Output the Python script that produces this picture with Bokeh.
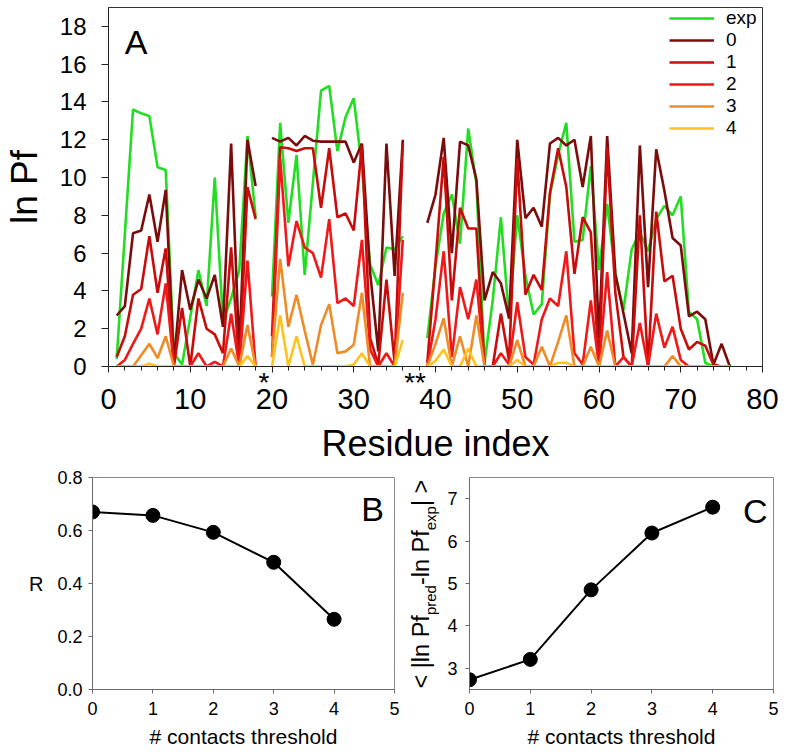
import math
import numpy as np
from bokeh.plotting import figure
from bokeh.layouts import column, row
from bokeh.models import (Label, SingleIntervalTicker, FixedTicker, PrintfTickFormatter,
                          LinearAxis, Range1d)
from bokeh.embed import file_html
from bokeh.resources import INLINE

nan = float("nan")

# ---------------- data ----------------
residues = list(range(1, 77))

pf_exp = [0.4, 7.0, 13.6, 13.4, 13.25, 10.55, 10.4, 0.7, 0.1, 2.6,
          5.1, 3.2, 10.0, 2.4, 3.6, 5.1, 12.2, 7.9, nan, 3.7,
          12.9, 7.6, 11.2, 4.85, 9.7, 14.6, 14.85, 11.4, 13.2, 14.2,
          10.5, 5.4, 4.3, 6.3, 6.2, 6.9, nan, nan, 1.5, 5.3,
          8.1, 9.1, 6.5, 12.6, 9.7, 0.2, 3.5, 7.9, 2.5, 8.0,
          4.8, 2.75, 3.3, 9.1, 11.2, 12.9, 6.6, 6.7, 10.6, 5.1,
          8.6, 4.9, 3.0, 6.2, 7.1, 6.1, 7.8, 8.5, 8.0, 9.0,
          2.9, 2.5, 0.2, 0.0, nan, nan]

pf_c0 = [2.7, 3.2, 7.05, 7.2, 9.1, 6.6, 9.35, 0.2, 5.1, 3.0,
         4.6, 3.6, 4.85, 2.1, 11.8, 0.8, 12.0, 9.55, nan, 12.1,
         11.9, 12.1, 11.7, 12.2, 11.95, 11.9, 11.9, 11.9, 11.9, 10.8,
         11.8, 5.0, 0.8, 11.8, 4.8, 12.0, nan, nan, 7.6, 9.1,
         12.1, 6.0, 11.9, 11.7, 9.9, 3.5, 5.0, 4.4, 2.55, 12.0,
         7.85, 8.4, 7.4, 11.8, 12.1, 11.7, 12.0, 9.5, 12.2, 1.5,
         12.2, 4.9, 2.8, 0.7, 11.7, 4.2, 11.5, 9.3, 6.8, 6.4,
         2.65, 2.9, 2.5, 0.1, 1.2, 0.0]

pf_c1 = [0.5, 1.6, 3.8, 4.1, 6.9, 3.9, 6.25, 0.0, 3.1, 0.0,
         3.6, 2.0, 1.7, 0.7, 6.3, 0.0, 9.5, 7.8, nan, 1.6,
         11.6, 11.55, 11.4, 11.55, 11.55, 8.4, 11.55, 7.9, 8.1, 7.2,
         11.7, 1.5, 0.1, 4.6, 0.2, 11.8, nan, nan, 0.2, 5.5,
         11.1, 3.5, 8.4, 7.3, 7.3, 0.0, 0.0, 2.8, 0.3, 11.0,
         3.8, 4.85, 4.05, 9.2, 11.55, 9.5, 4.9, 7.9, 7.1, 0.0,
         11.6, 3.9, 0.5, 0.0, 8.0, 0.0, 8.2, 4.5, 4.8, 2.0,
         0.9, 1.3, 1.1, 0.1, 0.0, 0.0]

pf_c2 = [0.0, 0.35, 1.2, 2.0, 3.6, 1.7, 4.4, 0.0, 0.0, 0.0,
         0.7, 0.0, 0.25, 0.0, 2.8, 0.0, 5.6, 0.0, nan, 0.5,
         11.0, 5.3, 7.7, 6.3, 6.0, 4.7, 7.8, 3.35, 3.6, 3.2,
         6.7, 0.9, 0.0, 0.7, 0.0, 6.7, nan, nan, 0.0, 2.5,
         6.1, 0.5, 4.2, 2.5, 4.6, 0.0, 0.0, 0.7, 0.1, 3.4,
         0.5, 0.1, 2.5, 3.6, 3.2, 6.1, 0.7, 0.1, 3.5, 0.0,
         5.0, 0.0, 0.5, 0.0, 2.3, 0.0, 2.8, 1.0, 2.1, 0.35,
         0.0, 0.0, 0.0, 0.0, 0.0, 0.0]

pf_c3 = [0.0, 0.0, 0.0, 0.6, 1.2, 0.45, 1.6, 0.0, 0.0, 0.0,
         0.0, 0.0, 0.0, 0.0, 0.95, 0.0, 2.2, 0.0, nan, 0.5,
         5.7, 2.1, 3.8, 1.9, 0.1, 2.2, 3.3, 0.7, 0.8, 1.15,
         3.9, 0.0, 0.0, 0.0, 0.0, 3.9, nan, nan, 0.0, 1.2,
         2.55, 0.0, 1.6, 0.0, 2.7, 0.0, 0.0, 0.0, 0.0, 1.4,
         0.0, 0.0, 1.05, 0.0, 1.3, 2.7, 0.0, 0.0, 1.05, 0.0,
         1.9, 0.0, 0.0, 0.0, 0.0, 0.0, 0.0, 0.0, 0.55, 0.0,
         0.0, 0.0, 0.0, 0.0, 0.0, 0.0]

pf_c4 = [0.0, 0.0, 0.0, 0.0, 0.15, 0.0, 0.0, 0.0, 0.0, 0.0,
         0.0, 0.0, 0.0, 0.0, 0.0, 0.0, 0.55, 0.0, nan, 0.0,
         2.7, 0.0, 1.6, 0.0, 0.0, 0.0, 0.0, 0.0, 0.0, 0.1,
         0.7, 0.0, 0.0, 0.0, 0.0, 1.4, nan, nan, 0.0, 0.3,
         0.9, 0.0, 0.0, 0.95, 0.0, 0.0, 0.0, 0.0, 0.0, 0.35,
         0.0, 0.0, 0.0, 0.0, 0.2, 0.2, 0.0, 0.0, 0.0, 0.0,
         0.0, 0.0, 0.0, 0.0, 0.0, 0.0, 0.0, 0.0, 0.0, 0.0,
         0.0, 0.0, 0.0, 0.0, 0.0, 0.0]

series_labels = ["exp", "0", "1", "2", "3", "4"]
series_colors = ["#22DD22", "#7B0C0C", "#C80C0C", "#F01818", "#F08C28", "#FFC31E"]

proline_positions = [19, 37.5]
proline_marks = ["*", "**"]

thresholds = [0, 1, 2, 3, 4]
corr_R = [0.670, 0.657, 0.593, 0.480, 0.265]
mean_abs_dev = [2.73, 3.21, 4.85, 6.19, 6.80]

FONT = "Liberation Sans"


def plain_axis(ax, color):
    ax.axis_line_color = color
    ax.major_tick_line_color = color
    ax.minor_tick_line_color = color
    ax.major_tick_in = 0
    ax.minor_tick_in = 0
    ax.major_label_text_font = FONT
    ax.major_label_text_color = "black"
    ax.axis_label_text_font = FONT
    ax.axis_label_text_font_style = "normal"
    ax.axis_label_text_color = "black"


# ---------------- panel A ----------------
pA = figure(width=784, height=466, x_range=(0, 80), y_range=(0, 19),
            output_backend="svg", toolbar_location=None,
            min_border_left=104, min_border_right=22, min_border_top=7, min_border_bottom=99)
pA.xgrid.visible = False
pA.ygrid.visible = False
pA.outline_line_color = "#333333"
pA.outline_line_width = 1

all_series = [pf_exp, pf_c0, pf_c1, pf_c2, pf_c3, pf_c4]
for vals, lab, col in zip(all_series, series_labels, series_colors):
    pA.line(residues, np.array(vals, dtype=float), line_color=col, line_width=2.6,
            legend_label=lab)

pA.xaxis.ticker = SingleIntervalTicker(interval=10, num_minor_ticks=5)
pA.yaxis.ticker = SingleIntervalTicker(interval=2, num_minor_ticks=0)
plain_axis(pA.xaxis[0], "#222222")
plain_axis(pA.yaxis[0], "#222222")
pA.xaxis.major_tick_out = 6
pA.xaxis.minor_tick_out = 4
pA.xaxis.major_label_text_font_size = "29px"
pA.xaxis.major_label_standoff = 16
pA.yaxis.major_tick_out = 7
pA.yaxis.minor_tick_out = 0
pA.yaxis.major_label_text_font_size = "24px"
pA.yaxis.major_label_standoff = 15
pA.yaxis.axis_label = "ln Pf"
pA.yaxis.axis_label_text_font_size = "37px"
pA.yaxis.axis_label_standoff = 12

# proline markers, pulled up between the axis line and the residue numbers
star_axis = LinearAxis(ticker=FixedTicker(ticks=proline_positions, minor_ticks=[]),
                       major_label_overrides={k: v for k, v in zip(proline_positions, proline_marks)})
plain_axis(star_axis, "#222222")
star_axis.axis_line_color = None
star_axis.major_tick_line_color = None
star_axis.minor_tick_line_color = None
star_axis.major_tick_out = 0
star_axis.minor_tick_out = 0
star_axis.major_label_text_font_size = "28px"
star_axis.major_label_standoff = -45
star_axis.axis_label = "Residue index"
star_axis.axis_label_text_font_size = "36px"
star_axis.axis_label_standoff = 22
pA.add_layout(star_axis, "below")

lg = pA.legend[0]
lg.location = "top_right"
lg.margin = 0
lg.padding = 0
lg.spacing = 0
lg.glyph_width = 45
lg.glyph_height = 22
lg.label_height = 22
lg.label_width = 36
lg.label_standoff = 12
lg.label_text_font = FONT
lg.label_text_font_size = "19px"
lg.label_text_color = "black"
lg.border_line_color = None
lg.background_fill_alpha = 0

pA.add_layout(Label(x=2.0, y=17.15, text="A", text_font=FONT, text_font_size="34px",
                    text_color="black", text_baseline="alphabetic", text_align="left"))

SMALL_H = 288
SMALL_TOP = 11
SMALL_BOTTOM = 65


def style_small(p, y_standoff):
    p.xgrid.visible = False
    p.ygrid.visible = False
    p.outline_line_color = "#8a8a8a"
    p.outline_line_width = 1
    for ax in (p.xaxis[0], p.yaxis[0]):
        plain_axis(ax, "#6a6a6a")
        ax.major_tick_out = 4
        ax.minor_tick_out = 0
        ax.major_label_text_font_size = "18px"
    p.xaxis.ticker = FixedTicker(ticks=[0, 1, 2, 3, 4, 5])
    p.xaxis.major_label_standoff = 8
    p.yaxis.major_label_standoff = y_standoff
    p.xaxis.axis_label = "# contacts threshold"
    p.xaxis.axis_label_text_font_size = "21px"
    p.xaxis.axis_label_standoff = 7


# ---------------- panel B ----------------
pB = figure(width=404, height=SMALL_H, x_range=(0, 5), y_range=(0, 0.8),
            output_backend="svg", toolbar_location=None,
            min_border_left=92, min_border_right=10, min_border_top=SMALL_TOP,
            min_border_bottom=SMALL_BOTTOM)
style_small(pB, 6)
pB.yaxis.ticker = FixedTicker(ticks=[0, 0.2, 0.4, 0.6, 0.8])
pB.yaxis.formatter = PrintfTickFormatter(format="%.1f")
pB.yaxis.axis_label = "R"
pB.yaxis.axis_label_orientation = "horizontal"
pB.yaxis.axis_label_text_font_size = "20px"
pB.yaxis.axis_label_standoff = 11
pB.line(thresholds, corr_R, line_color="black", line_width=2)
pB.scatter(thresholds, corr_R, size=14, fill_color="black", line_color="black")
pB.add_layout(Label(x=4.45, y=0.683, text="B", text_font=FONT, text_font_size="34px",
                    text_color="black", text_baseline="alphabetic"))

# ---------------- label strip carrying panel C's y title ----------------
C_YMIN, C_YMAX = 2.5, 7.5
pL = figure(width=38, height=SMALL_H, x_range=Range1d(0, 38), y_range=Range1d(C_YMIN, C_YMAX),
            output_backend="svg", toolbar_location=None,
            min_border_left=0, min_border_right=0, min_border_top=SMALL_TOP,
            min_border_bottom=SMALL_BOTTOM, x_axis_location=None, y_axis_location=None)
pL.outline_line_color = None
pL.xgrid.visible = False
pL.ygrid.visible = False

frame_h = SMALL_H - SMALL_TOP - SMALL_BOTTOM
px_per_unit = frame_h / (C_YMAX - C_YMIN)
adv = {"<": 584, " ": 278, "|": 260, "l": 222, "n": 556, "P": 667, "f": 278, "-": 333,
       "p": 556, "r": 333, "e": 556, "d": 556, "x": 500, ">": 584}
main_size, sub_size = 23.5, 15
pieces = [("< |ln Pf", False), ("pred", True), ("-ln Pf", False), ("exp", True), ("| >", False)]
offset = 1.0
for txt, is_sub in pieces:
    fs = sub_size if is_sub else main_size
    pL.add_layout(Label(x=(25.5 if is_sub else 16.5), y=C_YMIN + offset / px_per_unit,
                        text=txt, angle=math.pi / 2,
                        text_font=FONT, text_font_size=f"{fs}px", text_color="black",
                        text_align="left", text_baseline="alphabetic"))
    offset += sum(adv[c] for c in txt) / 1000.0 * fs

# ---------------- panel C ----------------
pC = figure(width=342, height=SMALL_H, x_range=(0, 5), y_range=(C_YMIN, C_YMAX),
            output_backend="svg", toolbar_location=None,
            min_border_left=27, min_border_right=11, min_border_top=SMALL_TOP,
            min_border_bottom=SMALL_BOTTOM)
style_small(pC, 8)
pC.yaxis.ticker = FixedTicker(ticks=[3, 4, 5, 6, 7])
pC.line(thresholds, mean_abs_dev, line_color="black", line_width=2)
pC.scatter(thresholds, mean_abs_dev, size=14, fill_color="black", line_color="black")
pC.add_layout(Label(x=4.5, y=6.72, text="C", text_font=FONT, text_font_size="34px",
                    text_color="black", text_baseline="alphabetic"))

layout = column(pA, row(pB, pL, pC))
open("out.html", "w").write(file_html(layout, INLINE))
